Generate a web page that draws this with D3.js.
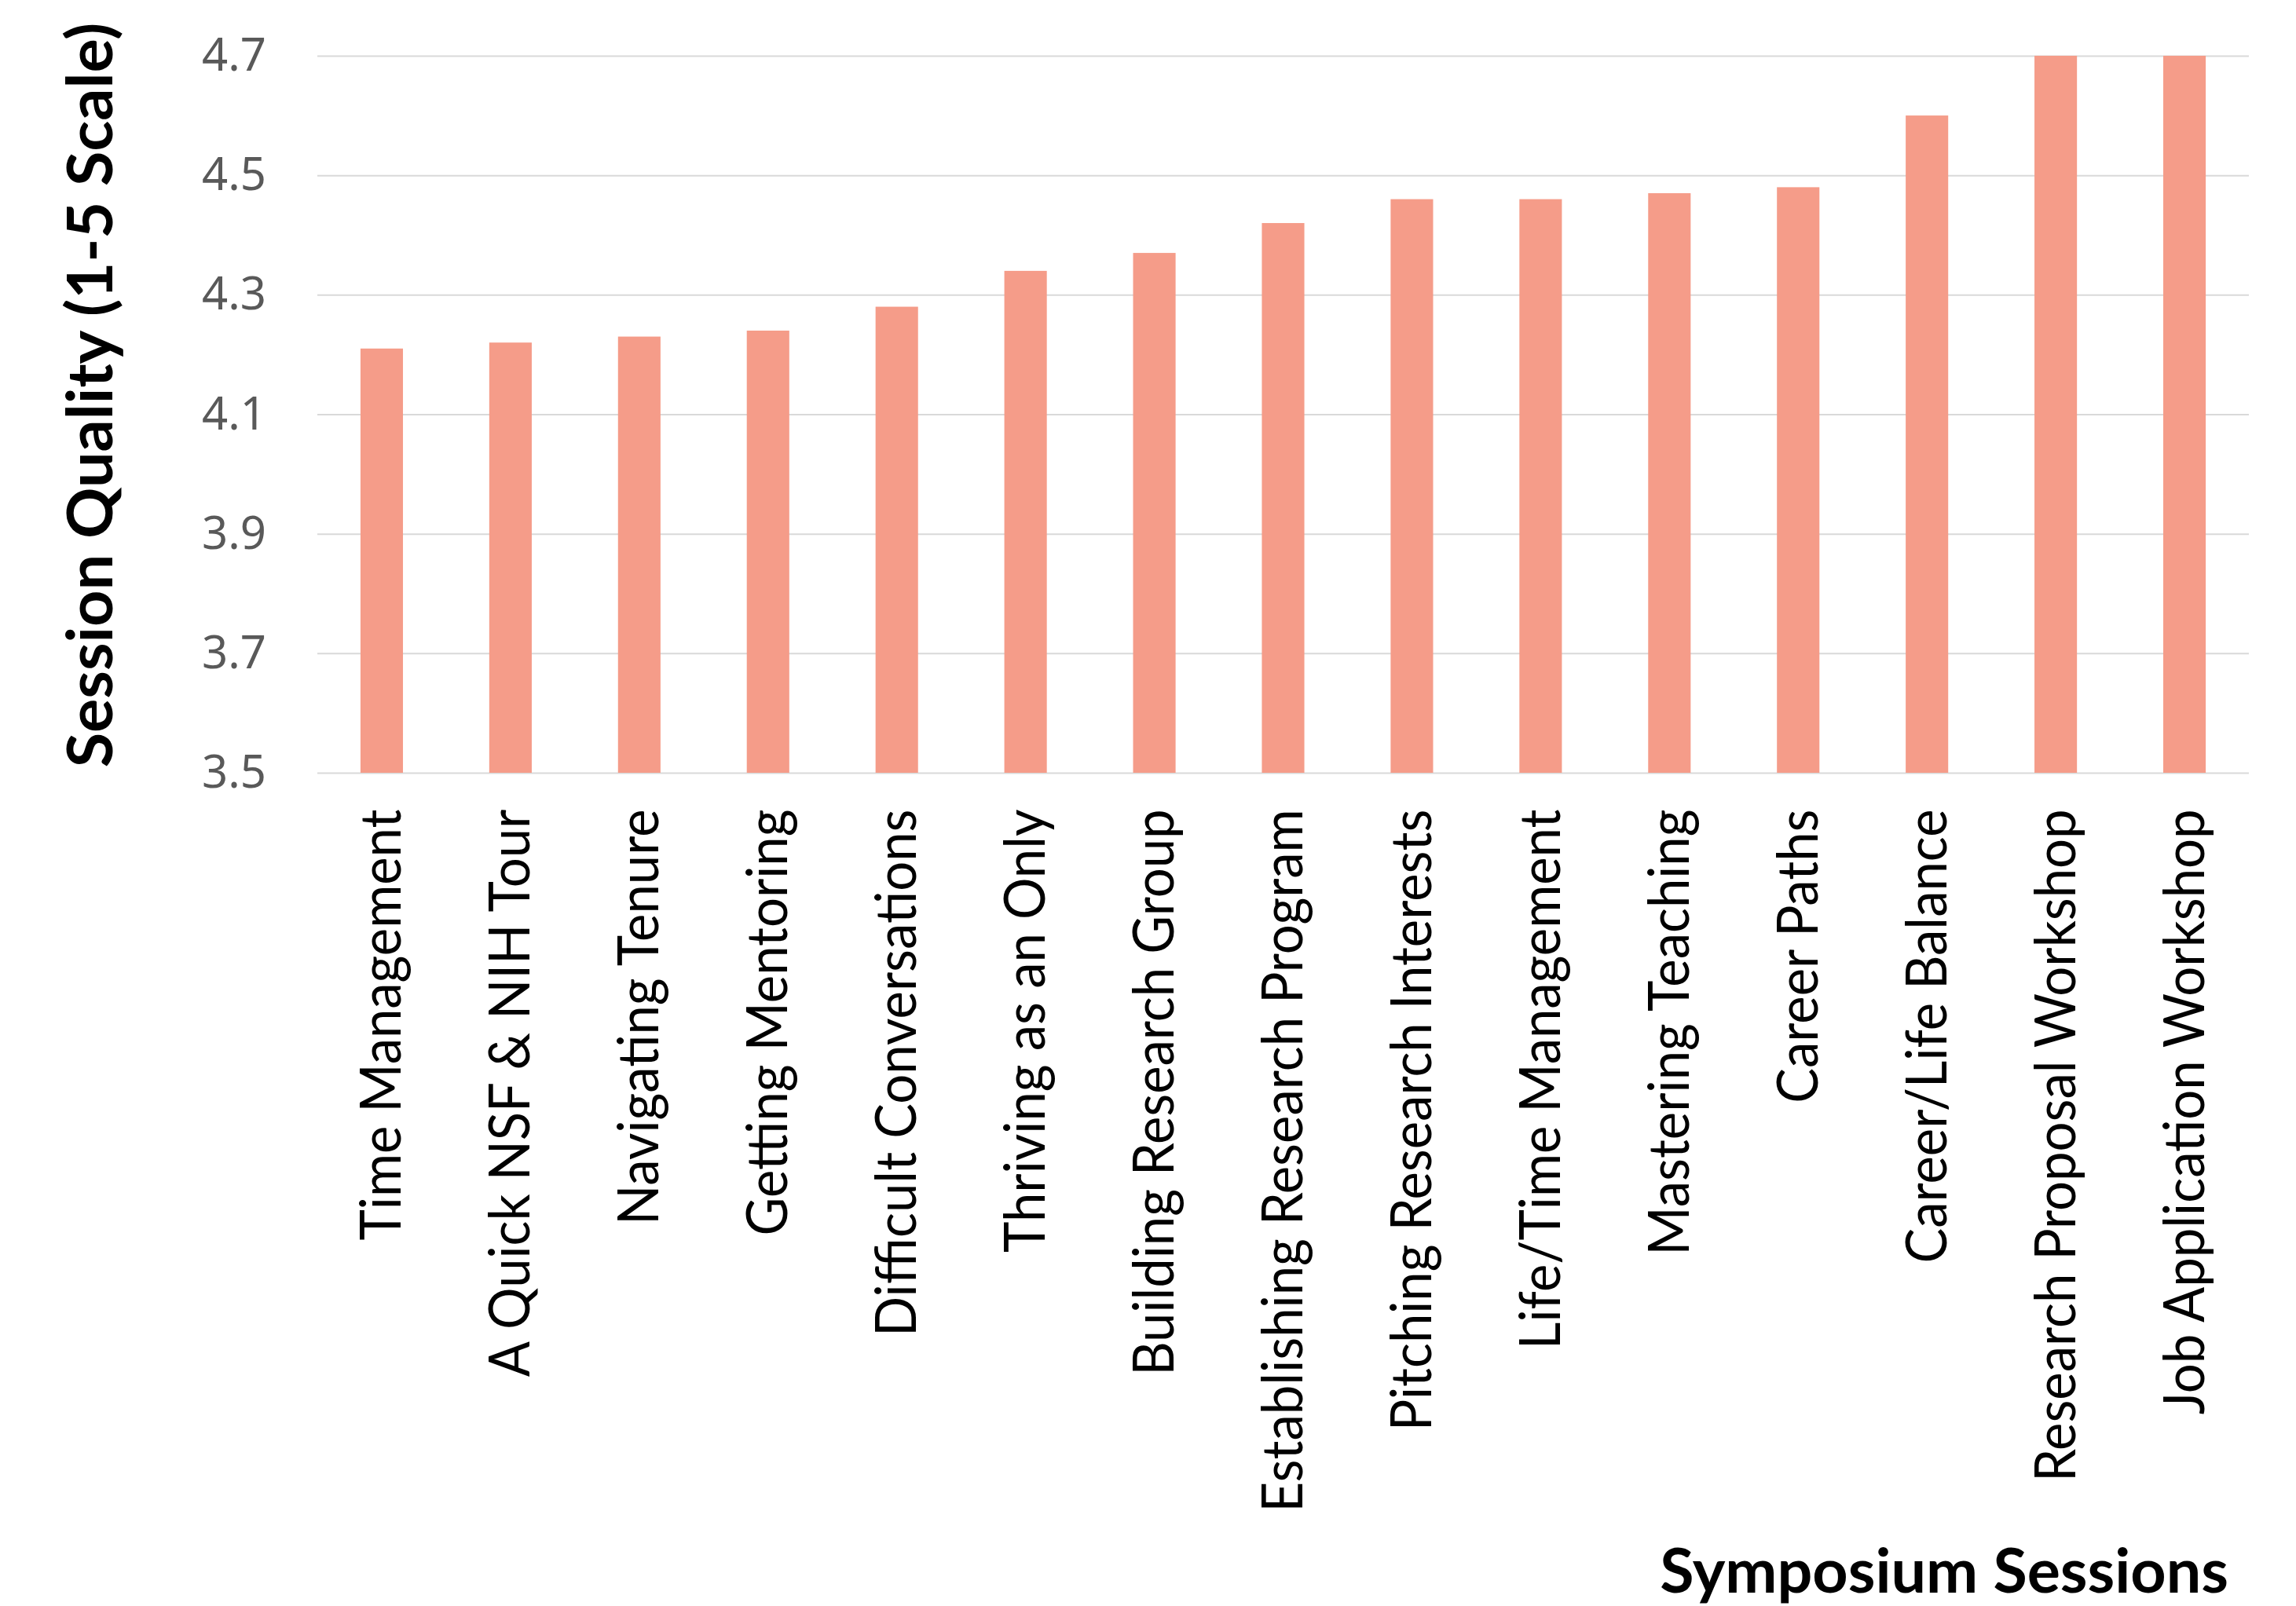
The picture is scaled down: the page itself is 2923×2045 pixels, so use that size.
<!DOCTYPE html>
<html>
<head>
<meta charset="utf-8">
<script src="https://cdn.jsdelivr.net/npm/d3@7"></script>
<style>
  html, body { margin: 0; padding: 0; background: #fff; }
  svg { display: block; }
</style>
</head>
<body>
<svg id="chart"></svg>
<script>
// session names, left to right (sorted by rating)
var sessions = [
  "Time Management",
  "A Quick NSF & NIH Tour",
  "Navigating Tenure",
  "Getting Mentoring",
  "Difficult Conversations",
  "Thriving as an Only",
  "Building Research Group",
  "Establishing Research Program",
  "Pitching Research Interests",
  "Life/Time Management",
  "Mastering Teaching",
  "Career Paths",
  "Career/Life Balance",
  "Research Proposal Workshop",
  "Job Application Workshop"
];

// mean quality rating, 1-5 scale
var quality = [4.21, 4.22, 4.23, 4.24, 4.28, 4.34, 4.37, 4.42, 4.46, 4.46, 4.47, 4.48, 4.60, 4.70, 4.70];

var yTicks = [3.5, 3.7, 3.9, 4.1, 4.3, 4.5, 4.7];

var yTitle = "Session Quality (1-5 Scale)";
var xTitle = "Symposium Sessions";

var W = 2923, H = 2045;
// plot box (window.top is reserved, so use other names)
var plotL = 404, plotR = 2863, plotT = 71, plotB = 984;

var svg = d3.select("#chart").attr("width", W).attr("height", H);

var x = d3.scaleBand()
  .domain(sessions)
  .range([plotL, plotR])
  .paddingInner(0.67)
  .paddingOuter(0.335);

var y = d3.scaleLinear()
  .domain([3.5, 4.7])
  .range([plotB, plotT]);

// gridlines + y labels
var yAxis = svg.append("g")
  .attr("transform", "translate(" + plotL + ",0)")
  .call(d3.axisLeft(y)
    .tickValues(yTicks)
    .tickFormat(d3.format(".1f"))
    .tickSize(-(plotR - plotL))
    .tickPadding(65));
yAxis.select(".domain").remove();
yAxis.selectAll(".tick line").attr("stroke", "#d9d9d9").attr("stroke-width", 2);
yAxis.selectAll(".tick text")
  .attr("fill", "#595959")
  .style("font-family", "'Noto Sans', 'Open Sans', sans-serif")
  .style("font-size", "58px");

// bars
svg.append("g").selectAll("rect")
  .data(sessions)
  .enter().append("rect")
  .attr("x", function(d) { return x(d); })
  .attr("width", x.bandwidth())
  .attr("y", function(d, i) { return y(quality[i]); })
  .attr("height", function(d, i) { return y(3.5) - y(quality[i]); })
  .attr("fill", "#f59c89");

// x labels, rotated, a little condensed along the text
var xAxis = svg.append("g")
  .attr("transform", "translate(0," + plotB + ")")
  .call(d3.axisBottom(x).tickSize(0));
xAxis.select(".domain").remove();
xAxis.selectAll(".tick text")
  .attr("transform", "rotate(-90) scale(0.93,1)")
  .attr("x", -50)
  .attr("y", 0)
  .attr("dy", "0.34em")
  .attr("text-anchor", "end")
  .attr("fill", "#000")
  .style("font-family", "Lato, 'Open Sans', sans-serif")
  .style("font-size", "72px");

// axis titles
svg.append("text")
  .attr("transform", "translate(143,503) rotate(-90)")
  .attr("text-anchor", "middle")
  .style("font-family", "Lato, sans-serif")
  .style("font-weight", "bold")
  .style("font-size", "81px")
  .text(yTitle);

svg.append("text")
  .attr("x", 2837)
  .attr("y", 2028)
  .attr("text-anchor", "end")
  .style("font-family", "Lato, sans-serif")
  .style("font-weight", "bold")
  .style("font-size", "79px")
  .text(xTitle);
</script>
</body>
</html>
